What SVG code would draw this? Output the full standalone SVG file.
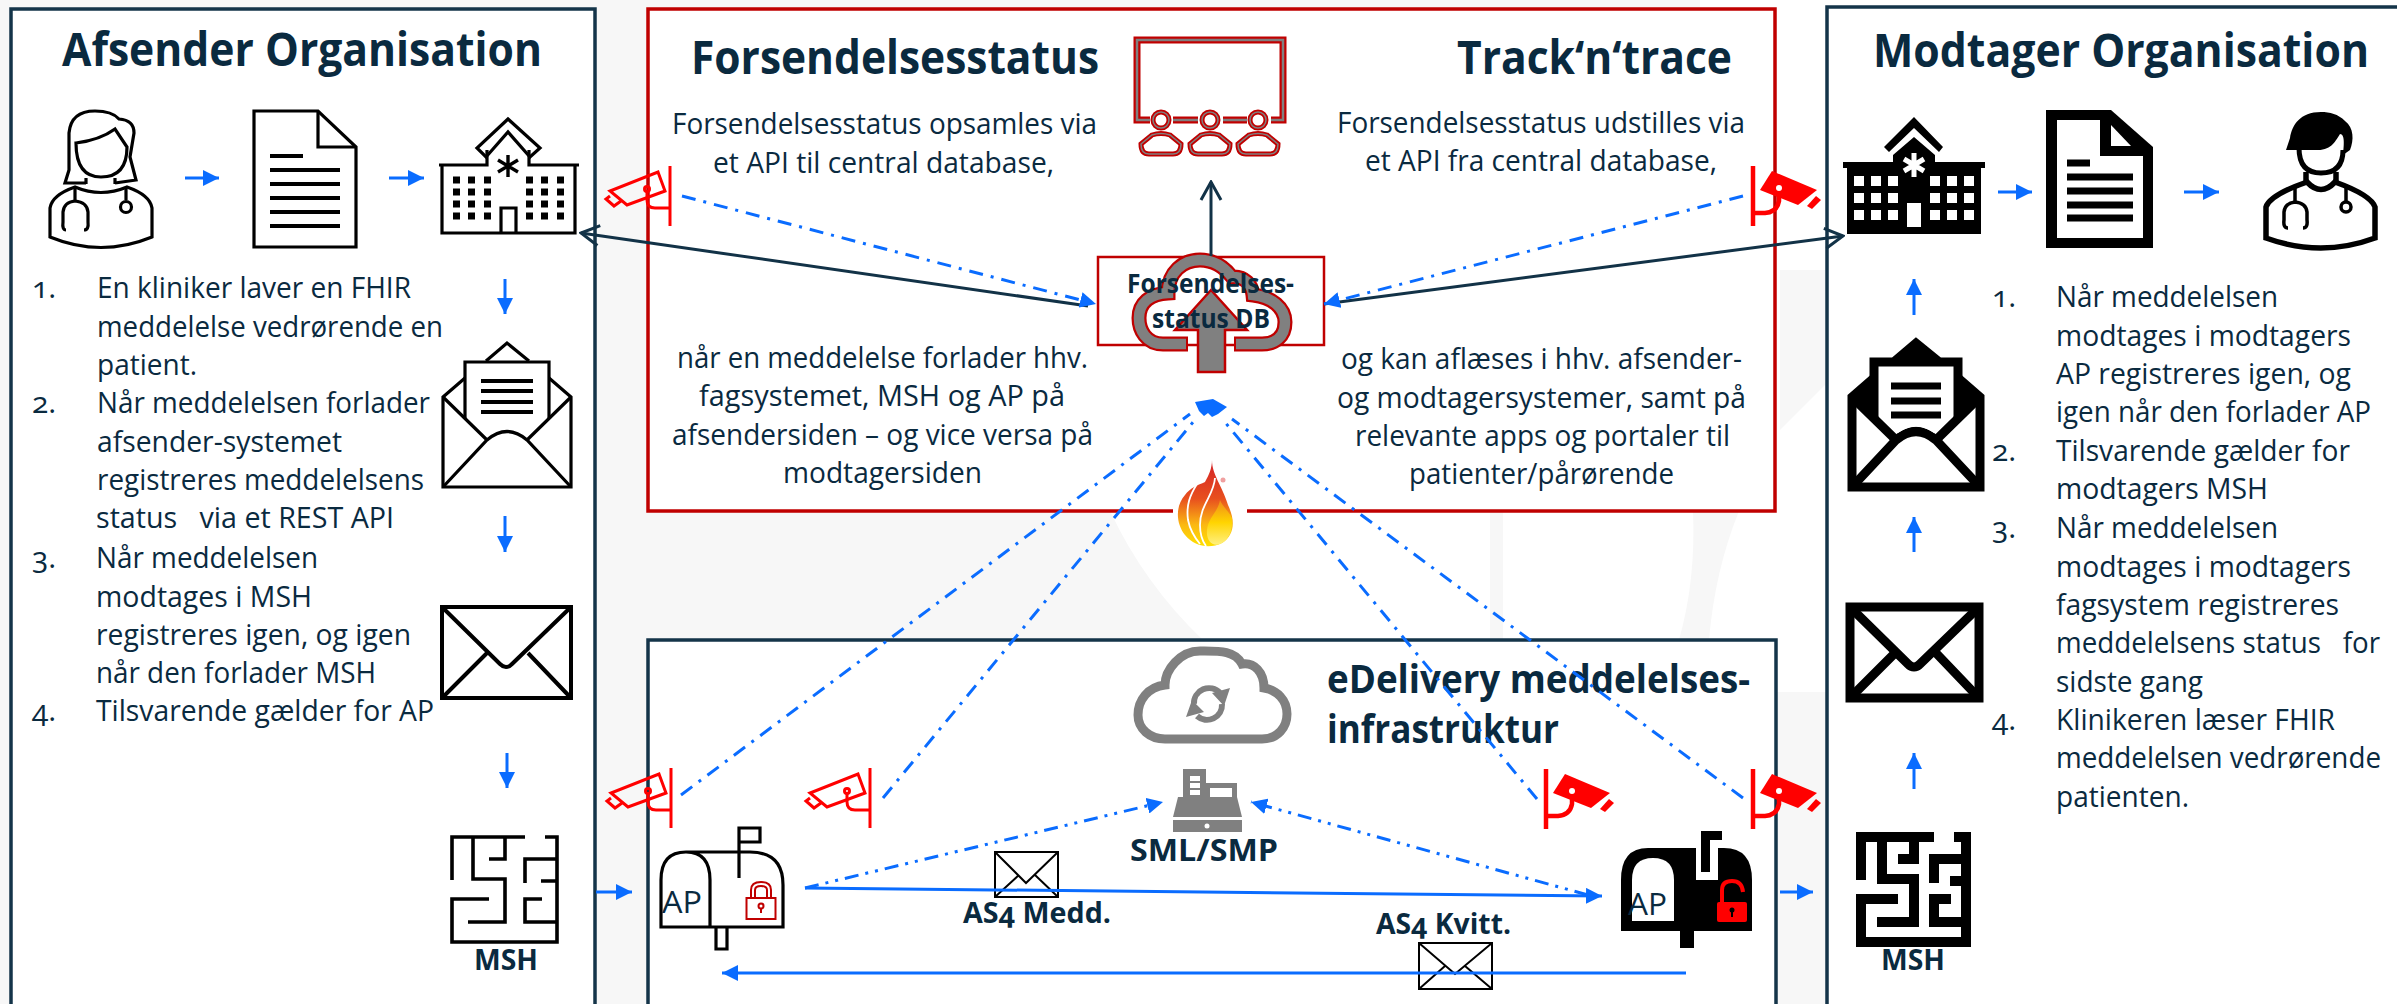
<svg xmlns="http://www.w3.org/2000/svg" width="2397" height="1004" viewBox="0 0 2397 1004">
<style>
text{font-family:"Open Sans","Noto Sans","DejaVu Sans",sans-serif;fill:#0a2a3f;font-variant-numeric:oldstyle-nums}
.t{font-size:30px}
.h{font-size:46px;font-weight:700}
.b{font-size:29px;font-weight:700}
.box{fill:#fff;stroke:#143449;stroke-width:3.5}
.rbox{fill:#fff;stroke:#c00000;stroke-width:3.5}
.ol{fill:none;stroke:#000;stroke-width:3.2}
.dk{fill:none;stroke:#123247;stroke-width:3}
.bl{fill:none;stroke:#0a6cff;stroke-width:3}
.dd{fill:none;stroke:#0a6cff;stroke-width:3;stroke-dasharray:14 8 3 8}
.ddd{fill:none;stroke:#0a6cff;stroke-width:3;stroke-dasharray:14 7 3 7 3 7}
.grey{fill:#f7f7f7}
</style>
<defs>
<marker id="ah" markerUnits="userSpaceOnUse" markerWidth="16" markerHeight="16" refX="16" refY="8" orient="auto"><path d="M0,0L16,8L0,16Z" fill="#0a6cff"/></marker>
<marker id="ov" markerUnits="userSpaceOnUse" markerWidth="22" markerHeight="24" refX="20" refY="12" orient="auto"><path d="M2,2L20,12L2,22" fill="none" stroke="#123247" stroke-width="3"/></marker>
<g id="envOpen" fill="none" stroke-linejoin="miter">
<path d="M465,378L443,397V487H571V397L549,378"/>
<path d="M486,361L507,343L529,361"/>
<path d="M465,418V362H549V418"/>
<path d="M443,397L487,440M571,397L527,440"/>
<path d="M443,487L487,440Q507,423 527,440L571,487"/>
</g>
<g id="envClosed" fill="none">
<rect x="442" y="607" width="129" height="91"/>
<path d="M442,607L500,664Q506,670 512,664L571,607"/>
<path d="M487,653L442,698M528,653L571,698"/>
</g>
<g id="maze" fill="none">
<path d="M452,880V837H525M545,837H557V942H452V899H489M473,837V879H505V922H468M505,837V859H489M557,859H525V883M541,881H557M542,899H525V922H557"/>
</g>
<g id="camO" fill="none" stroke="#f00" stroke-width="3">
<path d="M671,768V828"/>
<path d="M659,774L666,793L628,807L611,793Z"/>
<path d="M611,798L607,801L615,808L622,803"/>
<circle cx="648" cy="791" r="2.500"/>
<path d="M648,794V802Q648,810 656,810H671"/>
</g>
<g id="camF">
<path d="M1546,769V829" fill="none" stroke="#f00" stroke-width="4.500"/>
<path d="M1565,774L1610,793L1591,808L1553,793Z" fill="#f00"/>
<path d="M1600,809L1609,799L1614,803L1605,812Z" fill="#f00"/>
<circle cx="1572" cy="791" r="3" fill="#fff"/>
<path d="M1572,798V804Q1570,815 1558,816H1546" fill="none" stroke="#f00" stroke-width="4.500"/>
</g>
<g id="person">
<circle cx="0" cy="120" r="8"/>
<path d="M-9,135Q0,132 9,135L20,144Q20,154 12,154H-12Q-20,154 -20,144Z"/>
</g>
<linearGradient id="flame" x1="0" y1="0" x2="0" y2="1">
<stop offset="0" stop-color="#d32027"/><stop offset=".45" stop-color="#e8501e"/><stop offset=".75" stop-color="#fbb812"/><stop offset="1" stop-color="#ffe000"/>
</linearGradient>
<linearGradient id="flame2" x1="0" y1="0" x2="0" y2="1">
<stop offset="0" stop-color="#f08a1a"/><stop offset=".5" stop-color="#ffd400"/><stop offset="1" stop-color="#fff080"/>
</linearGradient>
</defs>

<rect width="2397" height="1004" fill="#fff"/>
<g id="background">
<rect class="grey" x="0" y="0" width="1700" height="12"/>
<rect class="grey" x="0" y="0" width="12" height="1004"/>
<rect class="grey" x="595" y="0" width="54" height="1004"/>
<path class="grey" d="M648,511H1110Q1145,585 1203,640H648Z"/>
<rect class="grey" x="1490" y="511" width="13" height="130"/>
<path class="grey" d="M1693,511H1739Q1715,570 1709,640H1679Q1696,580 1693,511Z"/>
<rect class="grey" x="1776" y="692" width="52" height="312"/>
<path class="grey" d="M1780,270H1825V385L1780,430Z"/>
</g>

<g id="afsender">
<rect class="box" x="11" y="9" width="584" height="1010"/>
<text class="h" x="62" y="66" textLength="480" lengthAdjust="spacingAndGlyphs">Afsender Organisation</text>
<g class="ol" id="doctor-f">
<path d="M86,183H65L69,170V133Q71,111 95,111Q112,111 119,119Q134,120 134,133L130,157L136,180L115,183"/>
<path d="M76,143Q100,140 115,129L127,147Q127,177 101,177Q76,177 76,143Z"/>
<path d="M86,178V184M115,178V184"/>
<path d="M50,237V208Q52,195 75,187Q101,198 127,187Q150,195 152,208V237Q101,258 50,237Z"/>
<path d="M75,188V202M126,187V200"/>
<path d="M66,230Q62,230 63,222V212Q64,202 75,201Q87,202 88,212V222Q89,230 84,230"/>
<circle cx="126" cy="207" r="5.500"/>
</g>
<g class="ol" id="doc-f"><path d="M254,111H318L356,147V247H254Z"/><path d="M318,111V147H356"/>
<path d="M270,156H303M270,170H340M270,184H340M270,198H340M270,212H340M270,226H340" stroke-width="4"/></g>
<g id="hospital-f">
<path class="ol" d="M442,165V233H575V165M439,165H487V150M529,150V165H579"/>
<path class="ol" d="M508,119L540,148L530,157L508,132L486,157L477,148Z"/>
<path d="M508,155V177M498,160L518,172M518,160L498,172" stroke="#000" stroke-width="3.400"/>
<path class="ol" d="M501,232V208H516V232"/>
<path d="M453,176.500h7v7h-7zM468,176.500h7v7h-7zM484,176.500h7v7h-7zM526,176.500h7v7h-7zM541,176.500h7v7h-7zM557,176.500h7v7h-7zM453,188.500h7v7h-7zM468,188.500h7v7h-7zM484,188.500h7v7h-7zM526,188.500h7v7h-7zM541,188.500h7v7h-7zM557,188.500h7v7h-7zM453,200.500h7v7h-7zM468,200.500h7v7h-7zM484,200.500h7v7h-7zM526,200.500h7v7h-7zM541,200.500h7v7h-7zM557,200.500h7v7h-7zM453,212.500h7v7h-7zM468,212.500h7v7h-7zM484,212.500h7v7h-7zM526,212.500h7v7h-7zM541,212.500h7v7h-7zM557,212.500h7v7h-7z"/>
</g>
<g id="env-open-f" stroke="#000" stroke-width="3.200"><use href="#envOpen"/><path d="M481,381H533M481,391H533M481,402H533M481,412H533" stroke-width="4" fill="none"/></g>
<use id="env-closed-f" href="#envClosed" stroke="#000" stroke-width="4"/>
<use id="maze-f" href="#maze" stroke="#000" stroke-width="3.600"/>
<text class="b" x="474" y="970" textLength="64" lengthAdjust="spacingAndGlyphs">MSH</text>
<g id="list-f">
<text class="t" x="32" y="298">1.</text><text class="t" x="97" y="298" textLength="314" lengthAdjust="spacingAndGlyphs">En kliniker laver en FHIR</text>
<text class="t" x="97" y="337" textLength="346" lengthAdjust="spacingAndGlyphs">meddelelse vedrørende en</text>
<text class="t" x="97" y="375" textLength="100" lengthAdjust="spacingAndGlyphs">patient.</text>
<text class="t" x="32" y="413">2.</text><text class="t" x="97" y="413" textLength="333" lengthAdjust="spacingAndGlyphs">Når meddelelsen forlader</text>
<text class="t" x="97" y="452" textLength="245" lengthAdjust="spacingAndGlyphs">afsender-systemet</text>
<text class="t" x="97" y="490" textLength="327" lengthAdjust="spacingAndGlyphs">registreres meddelelsens</text>
<text class="t" x="96" y="528" textLength="298" lengthAdjust="spacingAndGlyphs" xml:space="preserve">status   via et REST API</text>
<text class="t" x="32" y="568">3.</text><text class="t" x="96" y="568" textLength="222" lengthAdjust="spacingAndGlyphs">Når meddelelsen</text>
<text class="t" x="96" y="607" textLength="216" lengthAdjust="spacingAndGlyphs">modtages i MSH</text>
<text class="t" x="96" y="645" textLength="315" lengthAdjust="spacingAndGlyphs">registreres igen, og igen</text>
<text class="t" x="96" y="683" textLength="280" lengthAdjust="spacingAndGlyphs">når den forlader MSH</text>
<text class="t" x="32" y="721">4.</text><text class="t" x="96" y="721" textLength="338" lengthAdjust="spacingAndGlyphs">Tilsvarende gælder for AP</text>
</g>
</g>

<g id="modtager">
<rect class="box" x="1827" y="7" width="600" height="1010"/>
<text class="h" x="1873" y="67" textLength="496" lengthAdjust="spacingAndGlyphs">Modtager Organisation</text>
<g id="hospital-m">
<path d="M1843,162H1893V155L1914,137L1935,155V162H1985V168H1981V234H1847V168H1843Z"/>
<path d="M1914,117L1943,147L1939,152L1914,128L1889,152L1884,147Z"/>
<path d="M1914,153V177M1904,159L1924,171M1924,159L1904,171" stroke="#fff" stroke-width="5"/>
<path fill="#fff" d="M1854,176h10v10h-10zM1871,176h10v10h-10zM1888,176h10v10h-10zM1930,176h10v10h-10zM1947,176h10v10h-10zM1964,176h10v10h-10zM1854,193h10v10h-10zM1871,193h10v10h-10zM1888,193h10v10h-10zM1930,193h10v10h-10zM1947,193h10v10h-10zM1964,193h10v10h-10zM1854,210h10v10h-10zM1871,210h10v10h-10zM1888,210h10v10h-10zM1930,210h10v10h-10zM1947,210h10v10h-10zM1964,210h10v10h-10zM1907,203h14v24h-14z"/>
</g>
<g id="doc-m">
<path d="M2046,110H2111L2153,147V248H2046Z"/>
<path fill="#fff" d="M2057,120H2100V156H2143V238H2057Z"/>
<path fill="#fff" d="M2111,125L2131,146H2111Z"/>
<path d="M2067,163H2090M2067,177H2133M2067,191H2133M2067,205H2133M2067,218H2133" stroke="#000" stroke-width="7"/>
</g>
<g id="doctor-m">
<path d="M2321,112C2300,112 2292,125 2290,138L2286,150H2318C2332,150 2336,140 2340,134C2345,134 2344,145 2343,155L2350,150C2354,140 2354,128 2345,121C2338,114 2330,112 2321,112Z"/>
<path d="M2299,148Q2299,173 2321,173Q2343,173 2343,150" fill="none" stroke="#000" stroke-width="5"/>
<path d="M2266,238V207Q2270,195 2307,182Q2321,197 2335,182Q2371,195 2375,207V238Q2321,258 2266,238Z" fill="none" stroke="#000" stroke-width="5.500"/>
<path d="M2306,172V184M2336,172V184" stroke="#000" stroke-width="5.500"/>
<path d="M2295,188V202M2346,188V202" stroke="#000" stroke-width="3.500"/>
<path d="M2288,228Q2283,228 2284,220V212Q2285,203 2295,202Q2306,203 2307,212V220Q2308,228 2303,228" fill="none" stroke="#000" stroke-width="3.500"/>
<circle cx="2346" cy="207" r="5" fill="none" stroke="#000" stroke-width="3.500"/>
</g>
<g id="env-open-m" transform="translate(1409,0)" stroke="#000" stroke-width="9">
<path d="M443,397L465,372V362H486L507,343L529,362H549V372L571,397L527,440L549,418V362H465V418L487,440Z" fill="#000" stroke="none"/>
<use href="#envOpen"/>
<path d="M475,369H539V415L525,433Q507,420 489,433L475,415Z" fill="#fff" stroke="none"/>
<path d="M482,386H532M482,401H532M482,415H532" stroke-width="7" fill="none"/>
</g>
<use id="env-closed-m" href="#envClosed" x="1408" stroke="#000" stroke-width="9"/>
<use id="maze-m" href="#maze" x="1409" stroke="#000" stroke-width="10"/>
<text class="b" x="1881" y="970" textLength="64" lengthAdjust="spacingAndGlyphs">MSH</text>
<g id="list-m">
<text class="t" x="1992" y="307">1.</text><text class="t" x="2056" y="307" textLength="222" lengthAdjust="spacingAndGlyphs">Når meddelelsen</text>
<text class="t" x="2056" y="346" textLength="295" lengthAdjust="spacingAndGlyphs">modtages i modtagers</text>
<text class="t" x="2056" y="384" textLength="295" lengthAdjust="spacingAndGlyphs">AP registreres igen, og</text>
<text class="t" x="2056" y="422" textLength="315" lengthAdjust="spacingAndGlyphs">igen når den forlader AP</text>
<text class="t" x="1992" y="461">2.</text><text class="t" x="2056" y="461" textLength="294" lengthAdjust="spacingAndGlyphs">Tilsvarende gælder for</text>
<text class="t" x="2056" y="499" textLength="212" lengthAdjust="spacingAndGlyphs">modtagers MSH</text>
<text class="t" x="1992" y="538">3.</text><text class="t" x="2056" y="538" textLength="222" lengthAdjust="spacingAndGlyphs">Når meddelelsen</text>
<text class="t" x="2056" y="577" textLength="295" lengthAdjust="spacingAndGlyphs">modtages i modtagers</text>
<text class="t" x="2056" y="615" textLength="283" lengthAdjust="spacingAndGlyphs">fagsystem registreres</text>
<text class="t" x="2056" y="653" textLength="324" lengthAdjust="spacingAndGlyphs" xml:space="preserve">meddelelsens status   for</text>
<text class="t" x="2056" y="692" textLength="147" lengthAdjust="spacingAndGlyphs">sidste gang</text>
<text class="t" x="1992" y="730">4.</text><text class="t" x="2056" y="730" textLength="279" lengthAdjust="spacingAndGlyphs">Klinikeren læser FHIR</text>
<text class="t" x="2056" y="768" textLength="325" lengthAdjust="spacingAndGlyphs">meddelelsen vedrørende</text>
<text class="t" x="2056" y="807" textLength="133" lengthAdjust="spacingAndGlyphs">patienten.</text>
</g>
</g>

<g id="status">
<rect class="rbox" x="648" y="9" width="1127" height="502"/>
<text class="h" x="691" y="74" textLength="408" lengthAdjust="spacingAndGlyphs">Forsendelsesstatus</text>
<text class="h" x="1457" y="74" textLength="275" lengthAdjust="spacingAndGlyphs">Track‘n‘trace</text>
<text class="t" x="672" y="134" textLength="425" lengthAdjust="spacingAndGlyphs">Forsendelsesstatus opsamles via</text>
<text class="t" x="713" y="173" textLength="341" lengthAdjust="spacingAndGlyphs">et API til central database,</text>
<text class="t" x="677" y="368" textLength="411" lengthAdjust="spacingAndGlyphs">når en meddelelse forlader hhv.</text>
<text class="t" x="699" y="406" textLength="366" lengthAdjust="spacingAndGlyphs">fagsystemet, MSH og AP på</text>
<text class="t" x="672" y="445" textLength="421" lengthAdjust="spacingAndGlyphs">afsendersiden – og vice versa på</text>
<text class="t" x="783" y="483" textLength="199" lengthAdjust="spacingAndGlyphs">modtagersiden</text>
<text class="t" x="1337" y="133" textLength="408" lengthAdjust="spacingAndGlyphs">Forsendelsesstatus udstilles via</text>
<text class="t" x="1365" y="171" textLength="352" lengthAdjust="spacingAndGlyphs">et API fra central database,</text>
<text class="t" x="1341" y="369" textLength="401" lengthAdjust="spacingAndGlyphs">og kan aflæses i hhv. afsender-</text>
<text class="t" x="1337" y="408" textLength="409" lengthAdjust="spacingAndGlyphs">og modtagersystemer, samt på</text>
<text class="t" x="1355" y="446" textLength="375" lengthAdjust="spacingAndGlyphs">relevante apps og portaler til</text>
<text class="t" x="1409" y="484" textLength="265" lengthAdjust="spacingAndGlyphs">patienter/pårørende</text>
</g>

<g id="screen">
<path d="M1150,120H1137V40H1283V120H1271M1173,120H1198M1223,120H1247" fill="none" stroke="#c00000" stroke-width="7"/>
<path d="M1150,120H1137V40H1283V120H1271M1173,120H1198M1223,120H1247" fill="none" stroke="#808080" stroke-width="2.500"/>
<g fill="#fff" stroke="#c00000" stroke-width="5">
<use href="#person" x="1161"/><use href="#person" x="1210"/><use href="#person" x="1258"/>
</g>
<g fill="none" stroke="#808080" stroke-width="1.500">
<use href="#person" x="1161"/><use href="#person" x="1210"/><use href="#person" x="1258"/>
</g>
</g>

<g id="edelivery">
<rect class="box" x="648" y="640" width="1128" height="380"/>
<text x="1327" y="693" font-size="40" font-weight="700" textLength="423" lengthAdjust="spacingAndGlyphs">eDelivery meddelelses-</text>
<text x="1327" y="743" font-size="40" font-weight="700" textLength="232" lengthAdjust="spacingAndGlyphs">infrastruktur</text>
</g>

<g id="cloud-sync" fill="none" stroke="#808080" stroke-width="9">
<path d="M1165,739H1262C1278,739 1287,727 1287,714C1287,700 1277,690 1264,688C1264,672 1254,662 1242,664C1235,650 1218,651 1200,651C1180,651 1165,670 1165,685C1148,687 1138,700 1138,715C1138,729 1150,739 1165,739Z"/>
<path d="M1194,704A15,15 0 0 1 1220,693" stroke-width="6"/>
<path d="M1222,704A15,15 0 0 1 1197,716" stroke-width="6"/>
<path d="M1212,693L1230,688L1224,706ZM1204,712L1186,717L1192,700Z" fill="#808080" stroke="none"/>
</g>

<g id="sml">
<path fill="#808080" d="M1183,769H1206V783H1237V797L1242,817H1173L1178,797H1183ZM1173,820H1242V832H1173Z"/>
<path fill="#fff" d="M1190,776h10v5h-10zM1190,783h10v5h-10zM1190,790h10v5h-10zM1210,788h22v9h-22z"/>
<circle cx="1207" cy="826" r="2.500" fill="#fff"/>
<text x="1130" y="861" font-size="31" font-weight="700" textLength="148" lengthAdjust="spacingAndGlyphs">SML/SMP</text>
</g>

<g id="mailbox-a">
<path class="ol" d="M661,927V880Q661,852 686,852H750Q783,852 783,885V927ZM710,927V880Q710,852 686,852M739,878V828H760V842H739M716,927V949H727V927"/>
<text x="662" y="913" font-size="31" textLength="40" lengthAdjust="spacingAndGlyphs">AP</text>
<g fill="none" stroke="#c00000" stroke-width="2"><rect x="746.500" y="898" width="29" height="21"/><path d="M751,898V890Q751,882 761,882Q771,882 771,890V898M755,898V890Q755,886 761,886Q767,886 767,890V898"/><circle cx="761" cy="906" r="2.500"/><path d="M761,908V913"/></g>
</g>

<g id="mailbox-b">
<path d="M1621,931V880Q1621,848 1648,848H1696V880H1718V848H1724Q1752,848 1752,880V931H1694V948H1680V931Z"/>
<path d="M1701,872V831H1722V840H1710V872Z"/>
<path d="M1632,921V880Q1632,858 1653,858Q1674,858 1674,880V921Z" fill="#fff"/>
<text x="1628" y="915" font-size="31" textLength="39" lengthAdjust="spacingAndGlyphs">AP</text>
<rect x="1717" y="902" width="30" height="20" rx="2" fill="#f00"/>
<path d="M1722,902V890Q1722,881 1732,881Q1742,881 1743,892" fill="none" stroke="#f00" stroke-width="4"/>
<circle cx="1732" cy="910" r="2.500" fill="#000"/><path d="M1732,911V917" stroke="#000" stroke-width="2"/>
</g>

<g id="db">
<rect x="1098" y="257" width="226" height="88" fill="#fff" stroke="#c00000" stroke-width="2.500"/>
<g fill="none">
<path d="M1188,344H1163C1146,344 1139,330 1139,318C1139,303 1150,294 1168,293C1168,272 1183,260 1200,260C1215,260 1225,268 1232,277C1245,276 1252,285 1253,295C1272,297 1285,308 1285,322C1285,337 1275,344 1262,344H1234" stroke="#c00000" stroke-width="15"/>
<path d="M1186,344H1163C1146,344 1139,330 1139,318C1139,303 1150,294 1168,293C1168,272 1183,260 1200,260C1215,260 1225,268 1232,277C1245,276 1252,285 1253,295C1272,297 1285,308 1285,322C1285,337 1275,344 1262,344H1236" stroke="#808080" stroke-width="10.500"/>
</g>
<path d="M1211,290L1247,330H1225V372H1198V330H1175Z" fill="#808080" stroke="#c00000" stroke-width="2.500"/>
<text x="1127" y="293" font-size="27" font-weight="700" textLength="167" lengthAdjust="spacingAndGlyphs">Forsendelses-</text>
<text x="1152" y="328" font-size="27" font-weight="700" textLength="118" lengthAdjust="spacingAndGlyphs">status DB</text>
</g>

<g id="flame-icon">
<rect x="1173" y="455" width="74" height="96" fill="#fff"/>
<path fill="url(#flame)" d="M1212,460C1212,475 1222,485 1228,505C1236,522 1234,535 1222,543C1210,549 1195,547 1185,535C1175,522 1176,505 1185,495C1190,488 1198,485 1205,482C1209,475 1212,468 1212,460Z"/>
<path fill="none" stroke="#fff" stroke-width="1.800" d="M1215,478C1214,495 1200,505 1200,525C1200,535 1203,542 1206,546M1197,484C1190,495 1186,505 1188,520C1190,530 1195,538 1200,544"/>
<path fill="url(#flame2)" d="M1232,518C1228,510 1222,506 1220,500C1218,512 1208,518 1207,530C1206,540 1212,547 1220,544C1230,540 1233,528 1232,518Z"/>
<circle cx="1223" cy="480" r="2.500" fill="#f0a0a0"/>
</g>

<g id="cameras">
<use id="cam1" href="#camO" x="-1" y="-602"/>
<use id="cam2" href="#camO"/>
<use id="cam3" href="#camO" x="199"/>
<use id="cam4" href="#camF" x="207" y="-603"/>
<use id="cam5" href="#camF"/>
<use id="cam6" href="#camF" x="207"/>
</g>

<g id="envelopes" fill="none" stroke="#000" stroke-width="2">
<g id="env-medd"><rect x="995" y="852" width="63" height="45"/><path d="M995,852L1026,883L1058,852M1019,875L995,897M1035,875L1058,897"/></g>
<g id="env-kvitt"><rect x="1419" y="943" width="73" height="46"/><path d="M1419,943L1455,974L1492,943M1445,966L1419,989M1465,966L1492,989"/></g>
</g>
<text id="lbl-medd" class="b" x="963" y="923" textLength="148" lengthAdjust="spacingAndGlyphs">AS4 Medd.</text>
<text id="lbl-kvitt" class="b" x="1376" y="934" textLength="135" lengthAdjust="spacingAndGlyphs">AS4 Kvitt.</text>

<g id="connectors">
<g class="bl" marker-end="url(#ah)">
<path d="M185,178H219"/><path d="M389,178H424"/>
<path d="M505,279V314"/><path d="M505,516V552"/><path d="M507,753V788"/>
<path d="M596,892H632"/>
<path d="M805,888L1602,896"/><path d="M1686,973H722"/>
<path d="M1780,892H1813"/>
<path d="M1914,789V753"/><path d="M1914,552V517"/><path d="M1914,315V279"/>
<path d="M1998,192H2032"/><path d="M2184,192H2219"/>
</g>
<g class="dk">
<path d="M1211,256V182" marker-end="url(#ov)"/>
<path d="M1088,306L581,233" marker-end="url(#ov)"/>
<path d="M1324,304L1843,236" marker-end="url(#ov)"/>
</g>
<path class="dd" d="M682,196L1096,304" marker-end="url(#ah)"/>
<path class="dd" d="M1743,196L1324,304" marker-end="url(#ah)"/>
<path class="dd" d="M681,795L1190,414"/>
<path class="dd" d="M883,798L1194,421"/>
<path class="dd" d="M1537,799L1224,421"/>
<path class="dd" d="M1743,798L1232,419"/>
<path d="M1195,402L1213,399L1227,407L1218,414L1212,417L1208,413L1204,416L1199,411Z" fill="#0a6cff"/>
<path class="ddd" d="M805,888L1163,802" marker-end="url(#ah)"/>
<path class="ddd" d="M1588,895L1251,802" marker-end="url(#ah)"/>
</g>
</svg>
